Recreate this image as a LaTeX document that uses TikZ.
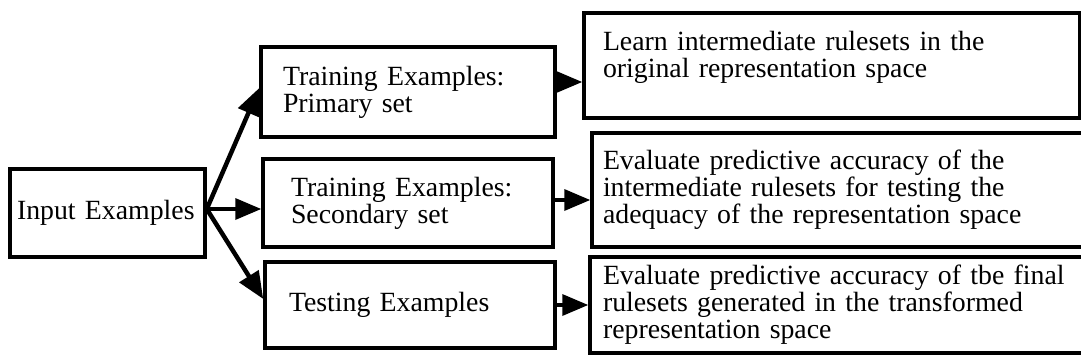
\documentclass[tikz,border=0pt]{standalone}
\usepackage{fontspec}
\setmainfont{Liberation Serif}
\usetikzlibrary{arrows.meta,calc}
\begin{document}
\begin{tikzpicture}[x=1pt,y=-1pt,
  box/.style={draw,line width=3.5pt,rectangle,align=left,inner ysep=0pt,
    font=\fontsize{27.8}{27}\selectfont},
  arr/.style={line width=3.5pt,-{Triangle[length=26pt,width=21pt]}},
  darr/.style={line width=4.5pt,-{Triangle[length=27pt,width=22pt]}}]
\useasboundingbox (0,0) rectangle (1081,362);
\clip (0,0) rectangle (1081,362);
\node[box,text width=181pt,inner xsep=7pt,minimum height=88pt] (in) at (107.5,213) {\mbox{Input Examples}};
\node[box,text width=250pt,inner xsep=22pt,minimum height=90pt] (A) at (408,92) {Training Examples:\\Primary set};
\node[box,text width=234pt,inner xsep=28pt,minimum height=88pt] (B) at (408,203) {Training Examples:\\Secondary set};
\node[box,text width=242pt,inner xsep=24pt,minimum height=86pt] (C) at (410,305) {Testing Examples};
\node[box,text width=458pt,inner xsep=19pt,minimum height=105pt] (R1) at (832,65.5) {Learn intermediate rulesets in the\\original representation space\\[-4pt]\mbox{}};
\node[box,text width=486pt,inner xsep=11pt,minimum height=114pt] (R2) at (846,190) {Evaluate predictive accuracy of the\\intermediate rulesets for testing the\\adequacy of the representation space};
\node[box,text width=484pt,inner xsep=13pt,minimum height=96pt] (R3) at (845,305) {Evaluate predictive accuracy of tbe final\\rulesets generated in the transformed\\representation space};
\coordinate (s) at ($(in.east)+(0,-4)$);
\draw[darr] (s) -- ($(A.west)+(0,-4)$);
\draw[arr] (s) -- (s -| B.west);
\draw[darr] (s) -- ($(C.west)+(0,-6)$);
\coordinate (a1) at ($(A.east)+(0,-10)$);
\draw[arr] (a1) -- (a1 -| R1.west);
\coordinate (b1) at ($(B.east)+(0,-3)$);
\draw[arr] (b1) -- (b1 -| R2.west);
\coordinate (c1) at (C.east);
\draw[arr] (c1) -- (c1 -| R3.west);
\end{tikzpicture}
\end{document}
